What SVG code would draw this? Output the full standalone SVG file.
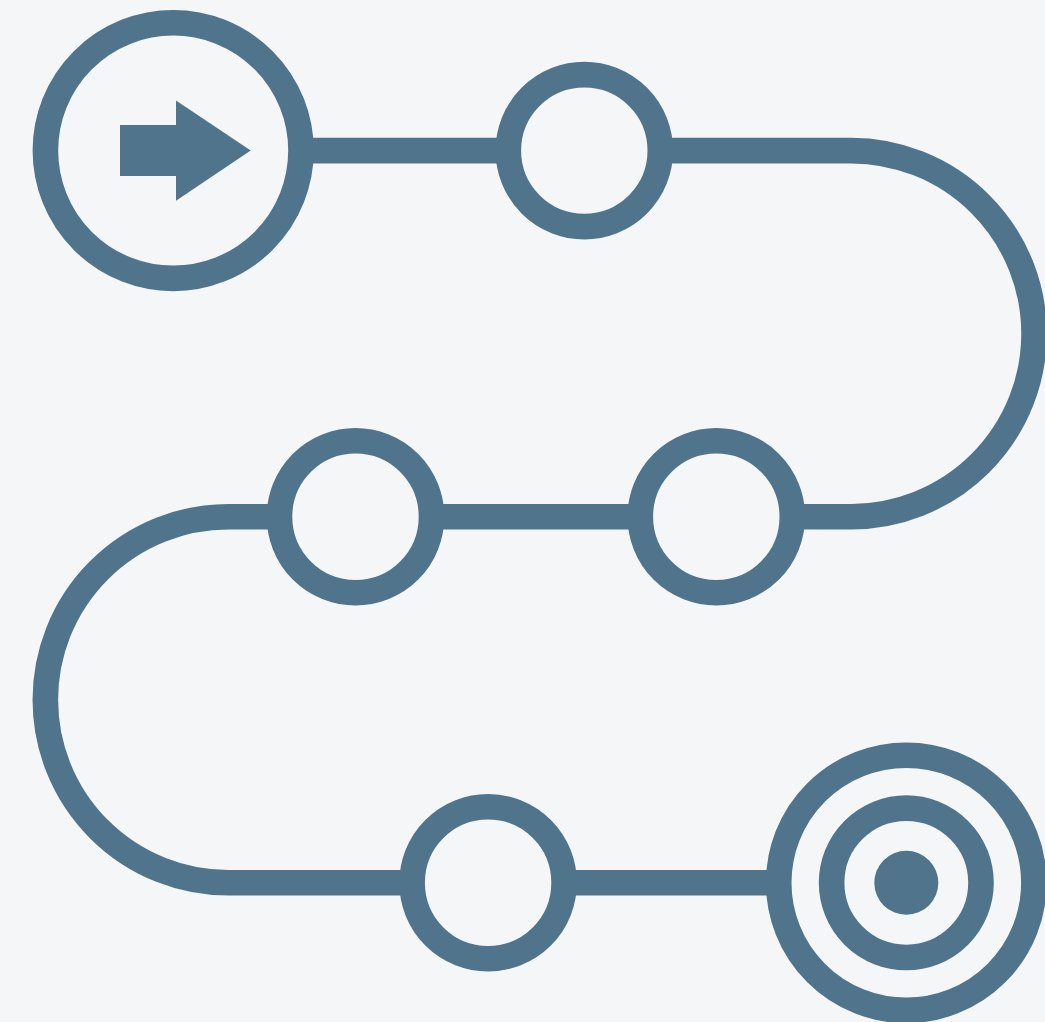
<svg xmlns="http://www.w3.org/2000/svg" width="1045" height="1022" viewBox="0 0 1045 1022">
<style>
.l{fill:none;stroke:#50748c;stroke-width:25.6}
.f{fill:#50748c}
</style>
<rect width="1045" height="1022" fill="#f5f6f8"/>
<g id="connectors">
<path class="l" d="M300 150.600H508M660 150.600H851A183.050 183.050 0 0 1 851 516.700H792M640 516.700H431M279 516.700H228.300A183.050 183.050 0 0 0 228.300 882.800H412M564 882.800H779"/>
</g>
<g id="start"><circle class="l" cx="173.200" cy="150.600" r="127.800"/><path class="f" d="M120 125H176V100.500L250.700 150.600L176 200.800V176H120Z"/></g>
<g id="step1"><circle class="l" cx="584.300" cy="150.600" r="76"/></g>
<g id="step2"><circle class="l" cx="716.300" cy="516.700" r="76"/></g>
<g id="step3"><circle class="l" cx="355.500" cy="516.700" r="76"/></g>
<g id="step4"><circle class="l" cx="488.100" cy="882.800" r="76"/></g>
<g id="end"><circle class="l" cx="906.300" cy="882.800" r="127.600"/><circle class="l" cx="906.300" cy="882.800" r="74.700"/><circle class="f" cx="906.300" cy="882.800" r="32"/></g>
</svg>
